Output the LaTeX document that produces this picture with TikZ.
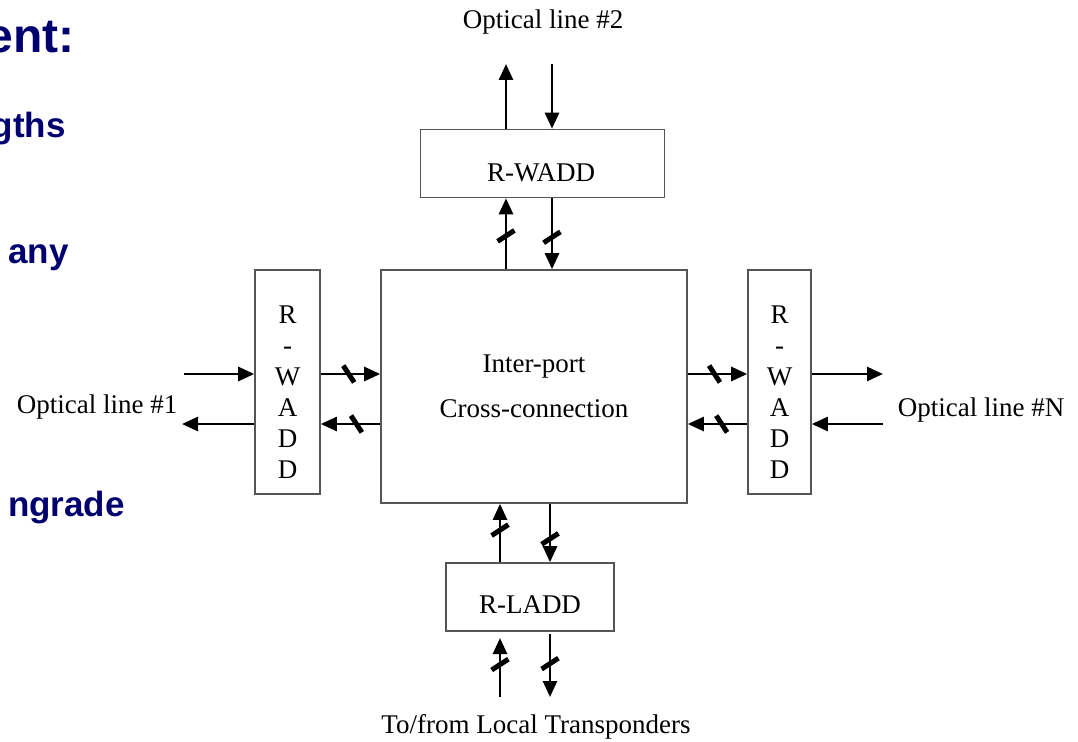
\documentclass[tikz,border=0pt]{standalone}
\usepackage{fontspec}
\setmainfont{Liberation Serif}
\newfontfamily\slidefont{Liberation Sans}
\usetikzlibrary{arrows.meta}
\definecolor{navy}{RGB}{0,0,110}
\definecolor{boxgray}{RGB}{85,85,85}
\begin{document}
\begin{tikzpicture}[x=1pt,y=-1pt,
  box/.style={draw=boxgray, line width=1.6pt, inner sep=0pt, fill=white},
  lbl/.style={font=\fontsize{27}{31}\selectfont, inner sep=0pt},
  sig/.style={line width=2.7pt, -{Triangle[length=16pt,width=14pt]}},
  slashmark/.style={sloped, fill=black, draw=none, inner sep=0pt,
    minimum width=5pt, minimum height=20pt, rotate=33},
  slidetxt/.style={font=\slidefont\bfseries\fontsize{35}{40}\selectfont,
    text=navy, anchor=base east, inner sep=0pt}
]
\useasboundingbox (0,0) rectangle (1078,741);
\fill[white] (0,0) rectangle (1078,741);

% slide text fragments
\node[slidetxt, font=\slidefont\bfseries\fontsize{48}{54}\selectfont] (s1) at (75,53) {ent:};
\node[slidetxt] (s2) at (66,137) {gths};
\node[slidetxt] (s3) at (69,263) {any};
\node[slidetxt] (s4) at (125,516) {ngrade};

% boxes
\node[box, minimum width=244pt, minimum height=68pt] (tw) at (542.5,163.5) {};
\node[lbl] (twt) at (541,172.5) {R-WADD};
\node[box, minimum width=306pt, minimum height=233pt, lbl, align=center,
      font=\fontsize{27}{45}\selectfont] (cc) at (534,386.5) {Inter-port\\Cross-connection};
\node[box, minimum width=65pt, minimum height=224pt] (lw) at (287.5,382) {};
\node[lbl, align=center] (lwt) at (287.5,392) {R\\-\\W\\A\\D\\D};
\node[box, minimum width=63pt, minimum height=224pt] (rw) at (779.5,382) {};
\node[lbl, align=center] (rwt) at (779.5,392) {R\\-\\W\\A\\D\\D};
\node[box, minimum width=168pt, minimum height=68pt] (bl) at (530,597) {};
\node[lbl] (blt) at (530,605) {R-LADD};

% outer labels
\node[lbl] (o2) at (543,22) {Optical line \#2};
\node[lbl] (o1) at (97,407) {Optical line \#1};
\node[lbl] (oN) at (981,410) {Optical line \#N};
\node[lbl] (tr) at (536,727) {To/from Local Transponders};

% helper coordinates
\coordinate (xu) at (506,0);
\coordinate (xd) at (552,0);
\coordinate (xbu) at (500,0);
\coordinate (xbd) at (550,0);
\coordinate (yi) at (0,374);
\coordinate (yo) at (0,424);
\coordinate (t1) at (506,64);
\coordinate (t2) at (552,64);
\coordinate (l1) at (184,374);
\coordinate (l2) at (182,424);
\coordinate (r1) at (883,374);
\coordinate (r2) at (883,424);
\coordinate (b1) at (500,697);
\coordinate (b2) at (550,697);
\coordinate (b3) at (500,638);
\coordinate (b4) at (550,634);

% top
\draw[sig] (tw.north -| xu) -- (t1);
\draw[sig] (t2) -- (tw.north -| xd);
\draw[sig] (cc.north -| xu) -- (tw.south -| xu) node[slashmark, pos=.47] {};
\draw[sig] (tw.south -| xd) -- (cc.north -| xd) node[slashmark, pos=.55] {};

% left
\draw[sig] (l1) -- (lw.west |- yi);
\draw[sig] (lw.west |- yo) -- (l2);
\draw[sig] (lw.east |- yi) -- (cc.west |- yi) node[slashmark, pos=.47] {};
\draw[sig] (cc.west |- yo) -- (lw.east |- yo) node[slashmark, pos=.4] {};

% right
\draw[sig] (cc.east |- yi) -- (rw.west |- yi) node[slashmark, pos=.45] {};
\draw[sig] (rw.west |- yo) -- (cc.east |- yo) node[slashmark, pos=.43] {};
\draw[sig] (rw.east |- yi) -- (r1);
\draw[sig] (r2) -- (rw.east |- yo);

% bottom
\draw[sig] (bl.north -| xbu) -- (cc.south -| xbu) node[slashmark, pos=.55] {};
\draw[sig] (cc.south -| xbd) -- (bl.north -| xbd) node[slashmark, pos=.6] {};
\draw[sig] (b1) -- (b3) node[slashmark, pos=.55] {};
\draw[sig] (b4) -- (b2) node[slashmark, pos=.47] {};
\end{tikzpicture}
\end{document}
